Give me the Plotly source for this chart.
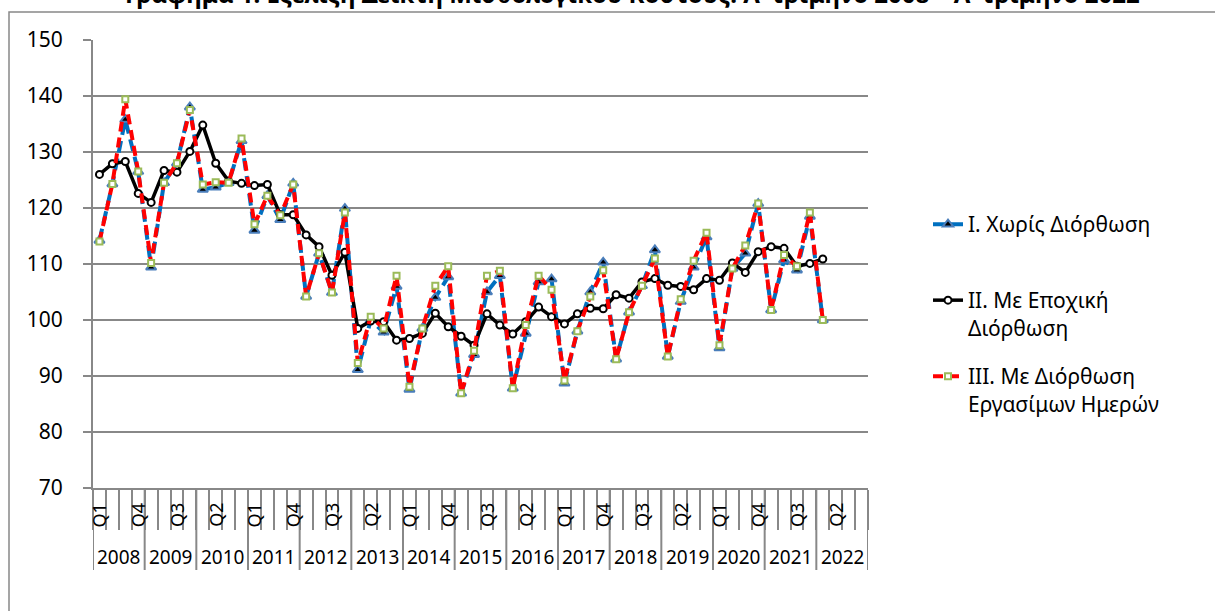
import plotly.graph_objects as go

# ---------------- data ----------------
years = list(range(2008, 2023))
quarters = ["Q1", "Q2", "Q3", "Q4"]

# I. Χωρίς Διόρθωση (unadjusted) 2008Q1 - 2022Q1
series_unadj = [
    114.2, 124.3, 135.8, 126.5,
    109.4, 124.5, 128.0, 138.0,
    123.3, 123.7, 124.5, 132.0,
    116.0, 122.2, 117.9, 124.4,
    104.2, 111.9, 104.9, 119.9,
    91.1, 100.0, 97.8, 106.0,
    87.6, 98.5, 104.0, 107.7,
    86.9, 93.8, 105.0, 107.9,
    87.8, 97.6, 106.8, 107.3,
    88.7, 98.0, 105.0, 110.3,
    93.0, 101.4, 106.1, 112.5,
    93.5, 103.3, 109.4, 114.8,
    95.0, 109.2, 111.9, 120.8,
    101.8, 110.7, 108.9, 118.5,
    100.0,
]

# II. Με Εποχική Διόρθωση (seasonally adjusted)
series_sa = [
    126.0, 127.9, 128.3, 122.6,
    121.0, 126.7, 126.4, 130.1,
    134.8, 128.0, 124.8, 124.4,
    124.0, 124.2, 118.8, 118.8,
    115.2, 113.1, 108.0, 112.1,
    98.5, 99.8, 99.7, 96.4,
    96.7, 97.6, 101.2, 98.8,
    97.1, 95.5, 101.1, 99.1,
    97.5, 99.7, 102.3, 100.6,
    99.3, 101.1, 102.1, 102.0,
    104.5, 103.9, 106.8, 107.4,
    106.2, 106.0, 105.4, 107.4,
    107.1, 110.2, 108.5, 112.2,
    113.1, 112.8, 109.6, 110.1,
    110.9,
]

# III. Με Διόρθωση Εργασίμων Ημερών (working-day adjusted)
series_wd = [
    114.0, 124.3, 139.4, 126.5,
    110.2, 124.5, 128.0, 137.5,
    124.2, 124.6, 124.5, 132.4,
    117.1, 122.2, 118.7, 124.2,
    104.2, 111.9, 104.9, 119.2,
    92.3, 100.6, 98.5, 107.9,
    88.1, 98.5, 106.1, 109.6,
    86.9, 94.5, 107.9, 108.8,
    87.8, 99.1, 107.9, 105.4,
    89.2, 98.0, 104.2, 108.9,
    93.0, 101.4, 106.1, 111.0,
    93.5, 103.7, 110.6, 115.6,
    95.5, 109.2, 113.3, 120.8,
    101.8, 111.6, 109.6, 119.2,
    100.0,
]

names = [
    "I. Χωρίς Διόρθωση",
    "II. Με Εποχική<br>Διόρθωση",
    "III. Με Διόρθωση<br>Εργασίμων Ημερών",
]
title_text = "Γράφημα 1: Εξέλιξη Δείκτη Μισθολογικού Κόστους: Α' τρίμηνο 2008 – Α' τρίμηνο 2022"
y_ticks = [70, 80, 90, 100, 110, 120, 130, 140, 150]

# ---------------- layout constants ----------------
W, H = 1215, 611
L, R, T, B = 93, 868, 40, 488
pw, ph = R - L, B - T
FONT = "Noto Sans"
GRAY = "#888888"

def px_x(x):
    return (x - L) / pw

def px_y(y):
    return (B - y) / ph

n_cat = len(years) * len(quarters)
xi = list(range(len(series_sa)))

fig = go.Figure()
fig.add_trace(go.Scatter(
    x=xi, y=series_unadj, name=names[0], mode="lines+markers", legend="legend",
    showlegend=True,
    line=dict(color="#0070C0", width=4, dash="12px,6px"),
    marker=dict(symbol="triangle-up", size=9, color="#000000",
                line=dict(color="#4A7EBB", width=2)),
))
fig.add_trace(go.Scatter(
    x=xi, y=series_sa, name=names[1], mode="lines+markers", legend="legend2",
    showlegend=True,
    line=dict(color="#000000", width=3.5),
    marker=dict(symbol="circle", size=7, color="#FFFFFF",
                line=dict(color="#000000", width=2)),
))
fig.add_trace(go.Scatter(
    x=xi, y=series_wd, name=names[2], mode="lines+markers", legend="legend3",
    showlegend=True,
    line=dict(color="#FF0000", width=4, dash="10px,6px"),
    marker=dict(symbol="square", size=6, color="#FFFFFF",
                line=dict(color="#9BBB59", width=2)),
))

annotations = []
# quarter labels (every third category)
for i in range(n_cat):
    if i % 3 == 0:
        annotations.append(dict(
            x=i, y=px_y(515), xref="x", yref="paper", text=quarters[i % 4],
            showarrow=False, textangle=-90, font=dict(family=FONT, size=18, color="#000"),
            xanchor="center", yanchor="middle"))
# year labels
for k, yr in enumerate(years):
    annotations.append(dict(
        x=4 * k + 1.5, y=px_y(557), xref="x", yref="paper", text=str(yr),
        showarrow=False, font=dict(family=FONT, size=19, color="#000"),
        xanchor="center", yanchor="middle"))
# title (partly cut at the top as in the reference)
annotations.append(dict(
    x=px_x(632), y=px_y(11), xref="paper", yref="paper", text="<b>" + title_text + "</b>",
    showarrow=False, font=dict(family=FONT, size=24, color="#000"),
    xanchor="center", yanchor="bottom", borderpad=0))

shapes = []
# long year-separator ticks
for k in range(len(years) + 1):
    shapes.append(dict(type="line", xref="x", yref="paper",
                       x0=4 * k - 0.5, x1=4 * k - 0.5, y0=0, y1=px_y(570),
                       line=dict(color=GRAY, width=2)))
# chart area border
shapes.append(dict(type="rect", xref="paper", yref="paper",
                   x0=px_x(9), x1=px_x(1230), y0=px_y(640), y1=px_y(12),
                   line=dict(color=GRAY, width=1.5), fillcolor="rgba(0,0,0,0)"))

leg_common = dict(xanchor="left", yanchor="top", bgcolor="rgba(0,0,0,0)",
                  font=dict(family=FONT, size=21, color="#000"), valign="top",
                  itemwidth=30)

fig.update_layout(
    width=W, height=H,
    showlegend=True,
    margin=dict(l=L, r=W - R, t=T, b=H - B),
    paper_bgcolor="white", plot_bgcolor="white",
    font=dict(family=FONT, color="#000"),
    hovermode=False,
    xaxis=dict(range=[-0.5, n_cat - 0.5], showgrid=False, zeroline=False,
               showticklabels=False, tickmode="array",
               tickvals=[i - 0.5 for i in range(n_cat + 1)],
               ticks="outside", ticklen=40, tickwidth=2, tickcolor=GRAY,
               showline=True, linecolor=GRAY, linewidth=2),
    yaxis=dict(range=[70, 150], tickmode="array", tickvals=y_ticks,
               showgrid=True, gridcolor=GRAY, gridwidth=2, zeroline=False,
               showline=True, linecolor=GRAY, linewidth=2,
               ticks="outside", ticklen=8, tickwidth=2, tickcolor=GRAY,
               tickfont=dict(family=FONT, size=21, color="#000"),
               ticklabelstandoff=16),
    legend=dict(x=px_x(928), y=px_y(204), **leg_common),
    legend2=dict(x=px_x(928), y=px_y(280), **leg_common),
    legend3=dict(x=px_x(928), y=px_y(356), **leg_common),
    annotations=annotations,
    shapes=shapes,
)

fig.write_html("out.html", config={"displayModeBar": False},
               post_script="document.body.style.margin='0';")
